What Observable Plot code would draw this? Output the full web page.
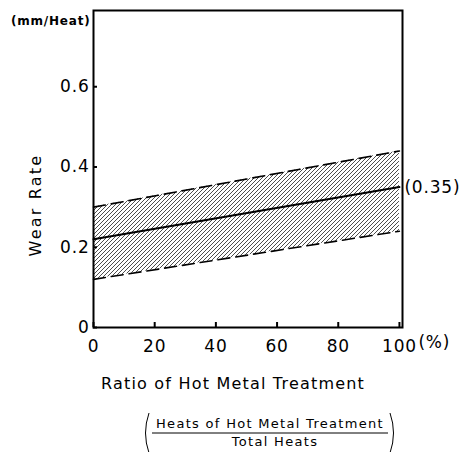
<!DOCTYPE html>
<html><head><meta charset="utf-8">
<script src="https://cdn.jsdelivr.net/npm/d3@7"></script>
<script src="https://cdn.jsdelivr.net/npm/@observablehq/plot@0.6"></script>
<style>body{margin:0;background:#fff}#chart svg text{letter-spacing:0.8px}</style>
</head><body><div id="chart"></div>
<script>
const ratio = [0, 100];
const meanRate = [0.22, 0.35];
const upperRate = [0.30, 0.44];
const lowerRate = [0.12, 0.24];
const xTicks = [0, 20, 40, 60, 80, 100];
const yTicks = [0, 0.2, 0.4, 0.6];
const yLabel = "Wear Rate";
const yUnit = "(mm/Heat)";
const xLabel = "Ratio of Hot Metal Treatment";
const endLabel = "(0.35)";
const fracTop = "Heats of Hot Metal Treatment";
const fracBottom = "Total Heats";

const rows = ratio.map((r, i) => ({r, mean: meanRate[i], hi: upperRate[i], lo: lowerRate[i]}));
const font = "'DejaVu Sans', sans-serif";

const plot = Plot.plot({
  width: 466, height: 452,
  marginLeft: 93, marginRight: 64, marginTop: 10, marginBottom: 125,
  style: {fontFamily: font, fontSize: "15px", color: "#000", background: "#fff"},
  x: {domain: [0, 101]},
  y: {domain: [0, 0.79]},
  marks: [
    Plot.areaY(rows, {x: "r", y1: "lo", y2: "hi", fill: "url(#hatch)"}),
    Plot.lineY(rows, {x: "r", y: "hi", stroke: "#000", strokeWidth: 1.6, strokeDasharray: "12,6"}),
    Plot.lineY(rows, {x: "r", y: "lo", stroke: "#000", strokeWidth: 1.6, strokeDasharray: "12,6"}),
    Plot.lineY(rows, {x: "r", y: "mean", stroke: "#000", strokeWidth: 2}),
    Plot.frame({stroke: "#000", strokeWidth: 2}),
    Plot.axisX(xTicks, {tickSize: -5, tickPadding: 17, strokeWidth: 2, fontSize: 17, tickFormat: d => String(d), label: null}),
    Plot.axisY(yTicks, {tickSize: -4, tickPadding: 8, strokeWidth: 2, fontSize: 17, tickFormat: d => d === 0 ? "0" : d.toFixed(1), label: null}),
    Plot.text(["(%)"], {x: () => 100, frameAnchor: "bottom", dy: 20, dx: 19, textAnchor: "start", fontSize: 17}),
    Plot.text([{v: 0.35}], {x: () => 100, y: "v", text: () => endLabel, textAnchor: "start", dx: 5, fontSize: 17}),
    Plot.text([{v: 0.305}], {y: "v", text: () => yLabel, frameAnchor: "left", textAnchor: "middle", dx: -58, rotate: -90, fontSize: 16}),
    Plot.text([yUnit], {frameAnchor: "top-left", dx: -3, dy: 6, textAnchor: "end", fontSize: 12, fontWeight: 700}),
    Plot.text([xLabel], {frameAnchor: "bottom", dx: -15, dy: 61, fontSize: 16}),
    Plot.text([fracTop], {frameAnchor: "bottom", dx: 22, dy: 100, fontSize: 13}),
    Plot.text([fracBottom], {frameAnchor: "bottom", dx: 27, dy: 118, fontSize: 13})
  ]
});

const svg = d3.select(plot);
const spacing = new Map([[yLabel, "2.2px"], [xLabel, "1.2px"], [fracTop, "1.3px"], [fracBottom, "1.3px"]]);
svg.selectAll("text").each(function () {
  const s = spacing.get(this.textContent);
  if (s) this.style.letterSpacing = s;
});
const defs = svg.insert("defs", ":first-child");
const pat = defs.append("pattern").attr("id", "hatch").attr("patternUnits", "userSpaceOnUse")
  .attr("width", 4).attr("height", 4);
pat.append("path").attr("d", "M-1,1 l2,-2 M0,4 l4,-4 M3,5 l2,-2")
  .attr("stroke", "#000").attr("stroke-width", 0.7);
// fraction bar and brackets
const g = svg.append("g").attr("stroke", "#000").attr("fill", "none");
g.append("line").attr("x1", 152).attr("x2", 388).attr("y1", 433).attr("y2", 433).attr("stroke-width", 1);
g.append("path").attr("d", "M149,413 Q142,433 149,453").attr("stroke-width", 1);
g.append("path").attr("d", "M390,413 Q397,433 390,453").attr("stroke-width", 1);

document.getElementById("chart").appendChild(plot);
</script>
</body></html>
